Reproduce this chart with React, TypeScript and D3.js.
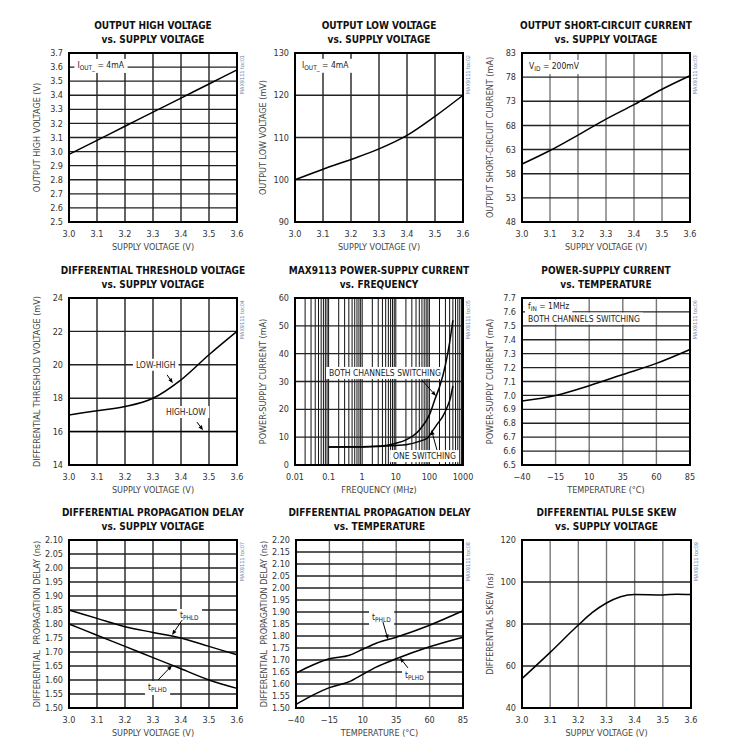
import React, { useEffect, useRef } from 'react';
import * as d3 from 'd3';

// ---- data ----
const supplyV = [3.0, 3.1, 3.2, 3.3, 3.4, 3.5, 3.6];
const outHigh = [2.98, 3.08, 3.18, 3.28, 3.38, 3.48, 3.58];
const outLow = [100, 102.5, 104.8, 107.3, 110.5, 115, 120];
const shortCkt = [60, 62.8, 66, 69.3, 72.3, 75.5, 78.3];
const threshLowHigh = [17.0, 17.25, 17.5, 18.0, 19.1, 20.6, 22.0];
const threshHighLow = [16, 16, 16, 16, 16, 16, 16];

const freqBoth = [0.1, 1, 5, 10, 20, 50, 100, 150, 200, 300, 400, 500];
const iccBoth = [6.5, 6.6, 7.0, 7.8, 9.0, 12.5, 18, 24, 28, 36, 44, 52];
const freqOne = [0.1, 1, 10, 20, 50, 90, 120, 165, 250, 330, 420, 500];
const iccOne = [6.5, 6.5, 7.0, 7.3, 8.5, 9.8, 12, 14.4, 17.5, 20.5, 24, 28.4];

const temps = [-40, -15, 10, 35, 60, 85];
const iccTemp = [6.96, 7.0, 7.07, 7.15, 7.23, 7.33];

const tphldV = [1.85, 1.82, 1.79, 1.77, 1.75, 1.72, 1.69];
const tplhdV = [1.80, 1.76, 1.72, 1.68, 1.64, 1.60, 1.57];

const tempsFine = [-40, -27, -15, 0, 10, 20, 35, 60, 85];
const tphldT = [1.645, 1.68, 1.705, 1.72, 1.745, 1.77, 1.795, 1.845, 1.905];
const tplhdT = [1.515, 1.555, 1.585, 1.61, 1.64, 1.67, 1.705, 1.755, 1.795];

const skewV = [3.0, 3.1, 3.2, 3.25, 3.3, 3.35, 3.4, 3.5, 3.55, 3.6];
const skew = [54, 66.5, 79.5, 85.5, 90, 93, 94, 93.8, 94.2, 94];

// ---- ticks ----
const vTicks = [3.0, 3.1, 3.2, 3.3, 3.4, 3.5, 3.6];
const tempTicks = [-40, -15, 10, 35, 60, 85];
const freqTicks = [0.01, 0.1, 1, 10, 100, 1000];
const freqTickLabels = ['0.01', '0.1', '1', '10', '100', '1000'];
const ohTicks = [2.5, 2.6, 2.7, 2.8, 2.9, 3.0, 3.1, 3.2, 3.3, 3.4, 3.5, 3.6, 3.7];
const olTicks = [90, 100, 110, 120, 130];
const scTicks = [48, 53, 58, 63, 68, 73, 78, 83];
const thTicks = [14, 16, 18, 20, 22, 24];
const iccTicks = [0, 10, 20, 30, 40, 50, 60];
const iccTempTicks = [6.5, 6.6, 6.7, 6.8, 6.9, 7.0, 7.1, 7.2, 7.3, 7.4, 7.5, 7.6, 7.7];
const pdVTicks = [1.5, 1.55, 1.6, 1.65, 1.7, 1.75, 1.8, 1.85, 1.9, 1.95, 2.0, 2.05, 2.1];
const pdTTicks = [1.5, 1.55, 1.6, 1.65, 1.7, 1.75, 1.8, 1.85, 1.9, 1.95, 2.0, 2.05, 2.1, 2.15, 2.2];
const skewTicks = [40, 60, 80, 100, 120];

const FONT = "'Liberation Sans Narrow', 'Arial Narrow', 'DejaVu Sans Condensed', sans-serif";

type Part = { t: string; sub?: boolean };
type Ann =
  | { kind: 'label'; x: number; y: number; parts: Part[] }
  | { kind: 'arrow'; x1: number; y1: number; x2: number; y2: number };

interface Panel {
  left: number; top: number; w: number; h: number;
  title: [string, string];
  xDomain: [number, number]; xLog?: boolean; xTicks: number[]; xLabels?: string[]; xFmt?: string;
  yDomain: [number, number]; yTicks: number[]; yFmt: string;
  xLabel: string; yLabel: string; toc: string;
  vGrid?: string;
  series: { x: number[]; y: number[] }[];
  ann: Ann[];
}

const cols = [69, 295, 522];
const rows = [53, 298, 540];

const panels: Panel[] = [
  {
    left: cols[0], top: rows[0], w: 168, h: 169,
    title: ['OUTPUT HIGH VOLTAGE', 'vs. SUPPLY VOLTAGE'],
    xDomain: [3.0, 3.6], xTicks: vTicks, xFmt: '.1f', yDomain: [2.5, 3.7], yTicks: ohTicks, yFmt: '.1f',
    xLabel: 'SUPPLY VOLTAGE (V)', yLabel: 'OUTPUT HIGH VOLTAGE (V)', toc: 'MAX9111 toc01',
    series: [{ x: supplyV, y: outHigh }],
    ann: [{ kind: 'label', x: 3.03, y: 3.615, parts: [{ t: 'I' }, { t: 'OUT_', sub: true }, { t: ' = 4mA' }] }],
  },
  {
    left: cols[1], top: rows[0], w: 168, h: 169,
    title: ['OUTPUT LOW VOLTAGE', 'vs. SUPPLY VOLTAGE'],
    xDomain: [3.0, 3.6], xTicks: vTicks, xFmt: '.1f', yDomain: [90, 130], yTicks: olTicks, yFmt: 'd',
    xLabel: 'SUPPLY VOLTAGE (V)', yLabel: 'OUTPUT LOW VOLTAGE (mV)', toc: 'MAX9111 toc02',
    series: [{ x: supplyV, y: outLow }],
    ann: [{ kind: 'label', x: 3.025, y: 127.2, parts: [{ t: 'I' }, { t: 'OUT_', sub: true }, { t: ' = 4mA' }] }],
  },
  {
    left: cols[2], top: rows[0], w: 168, h: 169,
    title: ['OUTPUT SHORT-CIRCUIT CURRENT', 'vs. SUPPLY VOLTAGE'],
    xDomain: [3.0, 3.6], xTicks: vTicks, xFmt: '.1f', yDomain: [48, 83], yTicks: scTicks, yFmt: 'd',
    xLabel: 'SUPPLY VOLTAGE (V)', yLabel: 'OUTPUT SHORT-CIRCUIT CURRENT (mA)', toc: 'MAX9111 toc03',
    vGrid: '#777',
    series: [{ x: supplyV, y: shortCkt }],
    ann: [{ kind: 'label', x: 3.025, y: 80.3, parts: [{ t: 'V' }, { t: 'ID', sub: true }, { t: ' = 200mV' }] }],
  },
  {
    left: cols[0], top: rows[1], w: 168, h: 167,
    title: ['DIFFERENTIAL THRESHOLD VOLTAGE', 'vs. SUPPLY VOLTAGE'],
    xDomain: [3.0, 3.6], xTicks: vTicks, xFmt: '.1f', yDomain: [14, 24], yTicks: thTicks, yFmt: 'd',
    xLabel: 'SUPPLY VOLTAGE (V)', yLabel: 'DIFFERENTIAL THRESHOLD VOLTAGE (mV)', toc: 'MAX9111 toc04',
    series: [{ x: supplyV, y: threshLowHigh }, { x: supplyV, y: threshHighLow }],
    ann: [
      { kind: 'label', x: 3.239, y: 20.0, parts: [{ t: 'LOW-HIGH' }] },
      { kind: 'arrow', x1: 3.35, y1: 19.4, x2: 3.371, y2: 18.9 },
      { kind: 'label', x: 3.346, y: 17.17, parts: [{ t: 'HIGH-LOW' }] },
      { kind: 'arrow', x1: 3.457, y1: 16.57, x2: 3.479, y2: 16.08 },
    ],
  },
  {
    left: cols[1], top: rows[1], w: 168, h: 167,
    title: ['MAX9113 POWER-SUPPLY CURRENT', 'vs. FREQUENCY'],
    xDomain: [0.01, 1000], xLog: true, xTicks: freqTicks, xLabels: freqTickLabels,
    yDomain: [0, 60], yTicks: iccTicks, yFmt: 'd',
    xLabel: 'FREQUENCY (MHz)', yLabel: 'POWER-SUPPLY CURRENT (mA)', toc: 'MAX9111 toc05',
    series: [{ x: freqBoth, y: iccBoth }, { x: freqOne, y: iccOne }],
    ann: [
      { kind: 'label', x: 0.103, y: 33.06, parts: [{ t: 'BOTH CHANNELS SWITCHING' }] },
      { kind: 'arrow', x1: 60, y1: 30.5, x2: 157, y2: 24.8 },
      { kind: 'label', x: 8.3, y: 3.2, parts: [{ t: 'ONE SWITCHING' }] },
      { kind: 'arrow', x1: 168, y1: 5.4, x2: 115, y2: 12.6 },
    ],
  },
  {
    left: cols[2], top: rows[1], w: 168, h: 167,
    title: ['POWER-SUPPLY CURRENT', 'vs. TEMPERATURE'],
    xDomain: [-40, 85], xTicks: tempTicks, xFmt: 'd', yDomain: [6.5, 7.7], yTicks: iccTempTicks, yFmt: '.1f',
    xLabel: 'TEMPERATURE (°C)', yLabel: 'POWER-SUPPLY CURRENT (mA)', toc: 'MAX9111 toc06',
    vGrid: '#777',
    series: [{ x: temps, y: iccTemp }],
    ann: [
      { kind: 'label', x: -35.5, y: 7.645, parts: [{ t: 'f' }, { t: 'IN', sub: true }, { t: ' = 1MHz' }] },
      { kind: 'label', x: -35.5, y: 7.552, parts: [{ t: 'BOTH CHANNELS SWITCHING' }] },
    ],
  },
  {
    left: cols[0], top: rows[2], w: 168, h: 168,
    title: ['DIFFERENTIAL PROPAGATION DELAY', 'vs. SUPPLY VOLTAGE'],
    xDomain: [3.0, 3.6], xTicks: vTicks, xFmt: '.1f', yDomain: [1.5, 2.1], yTicks: pdVTicks, yFmt: '.2f',
    xLabel: 'SUPPLY VOLTAGE (V)', yLabel: 'DIFFERENTIAL  PROPAGATION DELAY (ns)', toc: 'MAX9111 toc07',
    series: [{ x: supplyV, y: tphldV }, { x: supplyV, y: tplhdV }],
    ann: [
      { kind: 'label', x: 3.396, y: 1.832, parts: [{ t: 't' }, { t: 'PHLD', sub: true }] },
      { kind: 'arrow', x1: 3.404, y1: 1.814, x2: 3.368, y2: 1.761 },
      { kind: 'label', x: 3.282, y: 1.575, parts: [{ t: 't' }, { t: 'PLHD', sub: true }] },
      { kind: 'arrow', x1: 3.318, y1: 1.60, x2: 3.368, y2: 1.652 },
    ],
  },
  {
    left: cols[1] + 1, top: rows[2], w: 167, h: 168,
    title: ['DIFFERENTIAL PROPAGATION DELAY', 'vs. TEMPERATURE'],
    xDomain: [-40, 85], xTicks: tempTicks, xFmt: 'd', yDomain: [1.5, 2.2], yTicks: pdTTicks, yFmt: '.2f',
    xLabel: 'TEMPERATURE (°C)', yLabel: 'DIFFERENTIAL  PROPAGATION DELAY (ns)', toc: 'MAX9111 toc08',
    vGrid: '#666',
    series: [{ x: tempsFine, y: tphldT }, { x: tempsFine, y: tplhdT }],
    ann: [
      { kind: 'label', x: 16.9, y: 1.879, parts: [{ t: 't' }, { t: 'PHLD', sub: true }] },
      { kind: 'arrow', x1: 25.1, y1: 1.858, x2: 28.9, y2: 1.785 },
      { kind: 'label', x: 41.6, y: 1.6375, parts: [{ t: 't' }, { t: 'PLHD', sub: true }] },
      { kind: 'arrow', x1: 43.8, y1: 1.667, x2: 37.8, y2: 1.71 },
    ],
  },
  {
    left: cols[2], top: rows[2], w: 169, h: 168,
    title: ['DIFFERENTIAL PULSE SKEW', 'vs. SUPPLY VOLTAGE'],
    xDomain: [3.0, 3.6], xTicks: vTicks, xFmt: '.1f', yDomain: [40, 120], yTicks: skewTicks, yFmt: 'd',
    xLabel: 'SUPPLY VOLTAGE (V)', yLabel: 'DIFFERENTIAL SKEW (ns)', toc: 'MAX9111 toc09',
    vGrid: '#777',
    series: [{ x: skewV, y: skew }],
    ann: [],
  },
];

function drawPanel(svg: d3.Selection<SVGSVGElement, unknown, null, undefined>, p: Panel) {
  const g = svg.append('g').attr('font-family', FONT);
  const x: any = p.xLog
    ? d3.scaleLog().domain(p.xDomain).range([p.left, p.left + p.w])
    : d3.scaleLinear().domain(p.xDomain).range([p.left, p.left + p.w]);
  const y = d3.scaleLinear().domain(p.yDomain).range([p.top + p.h, p.top]);
  const bottom = p.top + p.h;
  const right = p.left + p.w;

  // grid
  const grid = g.append('g');
  if (p.xLog) {
    const minor: number[] = [];
    for (let e = -2; e < 3; e++) for (let k = 2; k <= 9; k++) minor.push(k * Math.pow(10, e));
    minor.concat(p.xTicks).forEach(v => {
      grid.append('line').attr('x1', x(v)).attr('x2', x(v)).attr('y1', p.top).attr('y2', bottom)
        .attr('stroke', '#111').attr('stroke-width', 1);
    });
  } else {
    p.xTicks.forEach(v => {
      grid.append('line').attr('x1', x(v)).attr('x2', x(v)).attr('y1', p.top).attr('y2', bottom)
        .attr('stroke', p.vGrid || '#222').attr('stroke-width', 1.4);
    });
  }
  p.yTicks.forEach(v => {
    grid.append('line').attr('x1', p.left).attr('x2', right).attr('y1', y(v)).attr('y2', y(v))
      .attr('stroke', '#222').attr('stroke-width', 1.4);
  });

  // annotations (labels over the grid, with white backgrounds)
  const annG = g.append('g');
  p.ann.forEach(a => {
    if (a.kind === 'label') {
      const t = annG.append('text').attr('x', x(a.x)).attr('y', y(a.y)).attr('dy', '0.35em')
        .attr('font-size', 8.5).attr('fill', '#222');
      a.parts.forEach((pt, i) => {
        const ts = t.append('tspan').text(pt.t);
        if (pt.sub) ts.attr('font-size', 6.5).attr('dy', 2);
        else if (i > 0 && a.parts[i - 1].sub) ts.attr('dy', -2);
      });
      const bb = (t.node() as SVGTextElement).getBBox();
      annG.insert('rect', () => t.node())
        .attr('x', bb.x - 3).attr('y', bb.y - 1).attr('width', bb.width + 6).attr('height', bb.height + 2)
        .attr('fill', '#fff');
    }
  });

  // series
  const line = d3.line<[number, number]>().x(d => x(d[0])).y(d => y(d[1])).curve(d3.curveMonotoneX);
  p.series.forEach(s => {
    g.append('path').datum(s.x.map((v, i) => [v, s.y[i]] as [number, number]))
      .attr('d', line).attr('fill', 'none').attr('stroke', '#000').attr('stroke-width', 1.5);
  });

  // arrows
  p.ann.forEach(a => {
    if (a.kind === 'arrow') {
      const x1 = x(a.x1), y1 = y(a.y1), x2 = x(a.x2), y2 = y(a.y2);
      const ang = Math.atan2(y2 - y1, x2 - x1);
      const L = 5, W = 2;
      const bx = x2 - L * Math.cos(ang), by = y2 - L * Math.sin(ang);
      g.append('line').attr('x1', x1).attr('y1', y1).attr('x2', bx).attr('y2', by)
        .attr('stroke', '#000').attr('stroke-width', 1);
      g.append('path')
        .attr('d', `M${x2},${y2}L${bx + W * Math.sin(ang)},${by - W * Math.cos(ang)}L${bx - W * Math.sin(ang)},${by + W * Math.cos(ang)}Z`)
        .attr('fill', '#000');
    }
  });

  // frame
  g.append('rect').attr('x', p.left).attr('y', p.top).attr('width', p.w).attr('height', p.h)
    .attr('fill', 'none').attr('stroke', '#000').attr('stroke-width', 2);

  // ticks
  const yf = d3.format(p.yFmt);
  p.yTicks.forEach(v => {
    g.append('text').attr('x', p.left - 6).attr('y', y(v)).attr('dy', '0.35em')
      .attr('text-anchor', 'end').attr('font-size', 9).attr('fill', '#333').text(yf(v));
  });
  const xf = d3.format(p.xFmt || 'd');
  p.xTicks.forEach((v, i) => {
    g.append('text').attr('x', x(v)).attr('y', bottom + 15)
      .attr('text-anchor', 'middle').attr('font-size', 9).attr('fill', '#333')
      .text(p.xLabels ? p.xLabels[i] : xf(v));
  });

  // axis labels
  g.append('text').attr('x', (p.left + right) / 2).attr('y', bottom + 28)
    .attr('text-anchor', 'middle').attr('font-size', 9).attr('fill', '#444').text(p.xLabel);
  g.append('text').attr('transform', `translate(${p.left - 32},${(p.top + bottom) / 2}) rotate(-90)`)
    .attr('dy', '0.35em').attr('text-anchor', 'middle').attr('font-size', 9).attr('fill', '#444')
    .attr('xml:space', 'preserve').style('white-space', 'pre').text(p.yLabel);

  // titles
  g.append('text').attr('x', (p.left + right) / 2).attr('y', p.top - 24)
    .attr('text-anchor', 'middle').attr('font-size', 10).attr('font-weight', 'bold').attr('fill', '#111')
    .text(p.title[0]);
  g.append('text').attr('x', (p.left + right) / 2).attr('y', p.top - 10)
    .attr('text-anchor', 'middle').attr('font-size', 10).attr('font-weight', 'bold').attr('fill', '#111')
    .text(p.title[1]);

  // figure id
  g.append('text').attr('transform', `translate(${right + 5},${p.top + 2}) rotate(-90)`)
    .attr('dy', '0.35em').attr('text-anchor', 'end').attr('font-size', 5.5).attr('fill', '#6f82a8')
    .text(p.toc);
}

const App: React.FC = () => {
  const svgRef = useRef<SVGSVGElement>(null);

  useEffect(() => {
    if (!svgRef.current) return;
    const svg = d3.select(svgRef.current);
    svg.selectAll('*').remove();
    panels.forEach(p => drawPanel(svg, p));
  }, []);

  return (
    <svg ref={svgRef} width={753} height={753}
      style={{ position: 'absolute', left: 0, top: 0, background: '#fff' }} />
  );
};

export default App;
